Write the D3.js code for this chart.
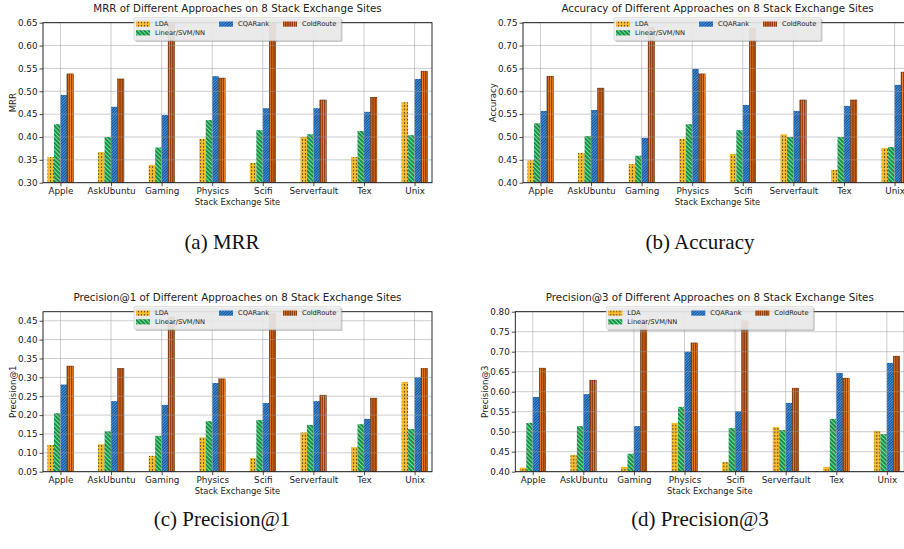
<!DOCTYPE html>
<html>
<head>
<meta charset="utf-8">
<script src="https://cdn.jsdelivr.net/npm/d3@7"></script>
<style>
body { margin: 0; background: #fff; }
svg { display: block; font-family: "DejaVu Sans", sans-serif; }
</style>
</head>
<body>
<svg id="fig" width="904" height="549"></svg>
<script>
// categories and series
var sites = ["Apple", "AskUbuntu", "Gaming", "Physics", "Scifi", "Serverfault", "Tex", "Unix"];
var methods = ["LDA", "Linear/SVM/NN", "CQARank", "ColdRoute"];

// MRR
var mrrLda    = [0.356, 0.367, 0.339, 0.396, 0.343, 0.400, 0.356, 0.476];
var mrrLinear = [0.428, 0.400, 0.377, 0.437, 0.415, 0.406, 0.413, 0.404];
var mrrCqa    = [0.492, 0.466, 0.448, 0.533, 0.463, 0.463, 0.455, 0.527];
var mrrCold   = [0.538, 0.527, 0.660, 0.529, 0.660, 0.481, 0.487, 0.544];
var mrrTicks  = [0.30, 0.35, 0.40, 0.45, 0.50, 0.55, 0.60, 0.65];

// Accuracy
var accLda    = [0.449, 0.465, 0.441, 0.496, 0.463, 0.506, 0.428, 0.476];
var accLinear = [0.530, 0.502, 0.459, 0.528, 0.515, 0.500, 0.500, 0.478];
var accCqa    = [0.557, 0.559, 0.498, 0.649, 0.570, 0.557, 0.568, 0.614];
var accCold   = [0.633, 0.607, 0.740, 0.638, 0.738, 0.581, 0.581, 0.642];
var accTicks  = [0.40, 0.45, 0.50, 0.55, 0.60, 0.65, 0.70, 0.75];

// Precision@1
var p1Lda     = [0.121, 0.123, 0.092, 0.141, 0.086, 0.154, 0.115, 0.288];
var p1Linear  = [0.205, 0.157, 0.145, 0.184, 0.187, 0.174, 0.176, 0.163];
var p1Cqa     = [0.281, 0.237, 0.227, 0.285, 0.232, 0.237, 0.190, 0.300];
var p1Cold    = [0.330, 0.324, 0.460, 0.296, 0.470, 0.253, 0.245, 0.324];
var p1Ticks   = [0.05, 0.10, 0.15, 0.20, 0.25, 0.30, 0.35, 0.40, 0.45];

// Precision@3
var p3Lda     = [0.410, 0.442, 0.412, 0.522, 0.424, 0.512, 0.412, 0.502];
var p3Linear  = [0.522, 0.514, 0.445, 0.562, 0.509, 0.504, 0.532, 0.494];
var p3Cqa     = [0.587, 0.594, 0.514, 0.700, 0.551, 0.572, 0.647, 0.672];
var p3Cold    = [0.659, 0.629, 0.780, 0.722, 0.777, 0.609, 0.634, 0.689];
var p3Ticks   = [0.40, 0.45, 0.50, 0.55, 0.60, 0.65, 0.70, 0.75, 0.80];

var svg = d3.select("#fig");
var defs = svg.append("defs");

// hatch patterns, one per method
var lda = defs.append("pattern").attr("id", "hLda").attr("patternUnits", "userSpaceOnUse")
    .attr("width", 3).attr("height", 3.4);
lda.append("rect").attr("width", 3).attr("height", 3.4).attr("fill", "#f9bd2d");
lda.append("circle").attr("cx", 1.5).attr("cy", 1.7).attr("r", 0.7).attr("fill", "#111");

var lin = defs.append("pattern").attr("id", "hLin").attr("patternUnits", "userSpaceOnUse")
    .attr("width", 3).attr("height", 3).attr("patternTransform", "rotate(-45)");
lin.append("rect").attr("width", 3).attr("height", 3).attr("fill", "#4ef58d");
lin.append("line").attr("x1", 1).attr("y1", 0).attr("x2", 1).attr("y2", 3)
    .attr("stroke", "#111").attr("stroke-width", 1);

var cqa = defs.append("pattern").attr("id", "hCqa").attr("patternUnits", "userSpaceOnUse")
    .attr("width", 2).attr("height", 2).attr("patternTransform", "rotate(45)");
cqa.append("rect").attr("width", 2).attr("height", 2).attr("fill", "#3d99f0");
cqa.append("line").attr("x1", 0.5).attr("y1", 0).attr("x2", 0.5).attr("y2", 2)
    .attr("stroke", "#102d55").attr("stroke-width", 0.7);

var cold = defs.append("pattern").attr("id", "hCold").attr("patternUnits", "userSpaceOnUse")
    .attr("width", 2.2).attr("height", 4);
cold.append("rect").attr("width", 2.2).attr("height", 4).attr("fill", "#8a3c0f");
cold.append("line").attr("x1", 1.1).attr("y1", 0).attr("x2", 1.1).attr("y2", 4)
    .attr("stroke", "#f58220").attr("stroke-width", 0.8);

var fills = ["url(#hLda)", "url(#hLin)", "url(#hCqa)", "url(#hCold)"];

var panels = [
  {id: "a", title: "MRR of Different Approaches on 8 Stack Exchange Sites", ylab: "MRR",
   series: [mrrLda, mrrLinear, mrrCqa, mrrCold], ticks: mrrTicks, dom: [0.30, 0.65],
   left: 43, top: 22.7, caption: "(a) MRR", cx: 222, cy: 249},
  {id: "b", title: "Accuracy of Different Approaches on 8 Stack Exchange Sites", ylab: "Accuracy",
   series: [accLda, accLinear, accCqa, accCold], ticks: accTicks, dom: [0.40, 0.75],
   left: 523, top: 22.7, caption: "(b) Accuracy", cx: 700, cy: 249},
  {id: "c", title: "Precision@1 of Different Approaches on 8 Stack Exchange Sites", ylab: "Precision@1",
   series: [p1Lda, p1Linear, p1Cqa, p1Cold], ticks: p1Ticks, dom: [0.05, 0.474],
   left: 43, top: 311.7, caption: "(c) Precision@1", cx: 222, cy: 526},
  {id: "d", title: "Precision@3 of Different Approaches on 8 Stack Exchange Sites", ylab: "Precision@3",
   series: [p3Lda, p3Linear, p3Cqa, p3Cold], ticks: p3Ticks, dom: [0.40, 0.80],
   left: 515.3, top: 311.7, caption: "(d) Precision@3", cx: 700, cy: 526}
];

var W = 389, H = 160, bw = 0.128;

panels.forEach(function(p) {
  var g = svg.append("g").attr("transform", "translate(" + p.left + "," + p.top + ")");
  var x = d3.scaleLinear().domain([-0.345, 7.345]).range([0, W]);
  var y = d3.scaleLinear().domain(p.dom).range([H, 0]);

  defs.append("clipPath").attr("id", "clip" + p.id)
    .append("rect").attr("width", W).attr("height", H);

  var bars = g.append("g").attr("clip-path", "url(#clip" + p.id + ")");
  p.series.forEach(function(vals, k) {
    bars.selectAll(null).data(vals).enter().append("rect")
      .attr("x", function(d, i) { return x(i + (k - 2) * bw); })
      .attr("width", x(bw) - x(0))
      .attr("y", function(d) { return y(d); })
      .attr("height", function(d) { return H - y(d); })
      .attr("fill", fills[k])
      .attr("stroke", k == 3 ? "#3a1604" : "none")
      .attr("stroke-width", 0.4);
  });

  // grid over the bars, as in the picture
  var grid = g.append("g").attr("stroke", "#999").attr("stroke-opacity", 0.55).attr("stroke-width", 0.9);
  grid.selectAll(null).data(p.ticks).enter().append("line")
    .attr("x1", 0).attr("x2", W).attr("y1", function(d) { return y(d); }).attr("y2", function(d) { return y(d); });
  grid.selectAll(null).data(d3.range(sites.length)).enter().append("line")
    .attr("y1", 0).attr("y2", H).attr("x1", function(d) { return x(d); }).attr("x2", function(d) { return x(d); });

  var yAxis = g.append("g").call(d3.axisLeft(y).tickValues(p.ticks).tickSize(3.5).tickPadding(2).tickFormat(d3.format(".2f")));
  var xAxis = g.append("g").attr("transform", "translate(0," + H + ")")
    .call(d3.axisBottom(x).tickValues(d3.range(sites.length)).tickSize(3.5).tickPadding(1.5)
      .tickFormat(function(i) { return sites[i]; }));
  [yAxis, xAxis].forEach(function(a) {
    a.select(".domain").remove();
    a.selectAll("text").attr("font-size", "8.8px").attr("font-family", "DejaVu Sans").attr("fill", "#222");
    a.selectAll("line").attr("stroke", "#222").attr("stroke-width", 0.8);
  });

  g.append("rect").attr("width", W).attr("height", H)
    .attr("fill", "none").attr("stroke", "#111").attr("stroke-width", 0.9);

  g.append("text").attr("x", W / 2).attr("y", -11).attr("text-anchor", "middle")
    .attr("font-size", "10.3px").attr("fill", "#222").text(p.title);
  g.append("text").attr("x", W / 2).attr("y", H + 22.3).attr("text-anchor", "middle")
    .attr("font-size", "8.4px").attr("fill", "#222").text("Stack Exchange Site");
  g.append("text").attr("transform", "translate(-27.3," + (H / 2) + ") rotate(-90)")
    .attr("text-anchor", "middle").attr("font-size", "8.6px").attr("fill", "#222").text(p.ylab);

  // legend, 3 columns, translucent with shadow
  var L = W / 2 - 103.5, T = -5.3;
  var leg = g.append("g").attr("transform", "translate(" + L + "," + T + ")");
  leg.append("rect").attr("x", 1.5).attr("y", 1.5).attr("width", 207).attr("height", 23)
    .attr("rx", 1.5).attr("fill", "#888").attr("opacity", 0.45);
  leg.append("rect").attr("width", 207).attr("height", 23).attr("rx", 1.5)
    .attr("fill", "#f0f0f0").attr("fill-opacity", 0.85).attr("stroke", "#cccccc").attr("stroke-width", 0.6);
  var spots = [[2, 6.7], [2, 15.4], [85, 6.7], [149, 6.7]];
  methods.forEach(function(m, k) {
    leg.append("rect").attr("x", spots[k][0]).attr("y", spots[k][1] - 2.6)
      .attr("width", 14).attr("height", 5.2).attr("fill", fills[k]);
    leg.append("text").attr("x", spots[k][0] + 19).attr("y", spots[k][1] + 2.4)
      .attr("font-size", "6.7px").attr("fill", "#222").text(m);
  });

  svg.append("text").attr("x", p.cx).attr("y", p.cy).attr("text-anchor", "middle")
    .attr("font-family", "Liberation Serif").attr("font-size", "21px").attr("fill", "#111").text(p.caption);
});
</script>
</body>
</html>
